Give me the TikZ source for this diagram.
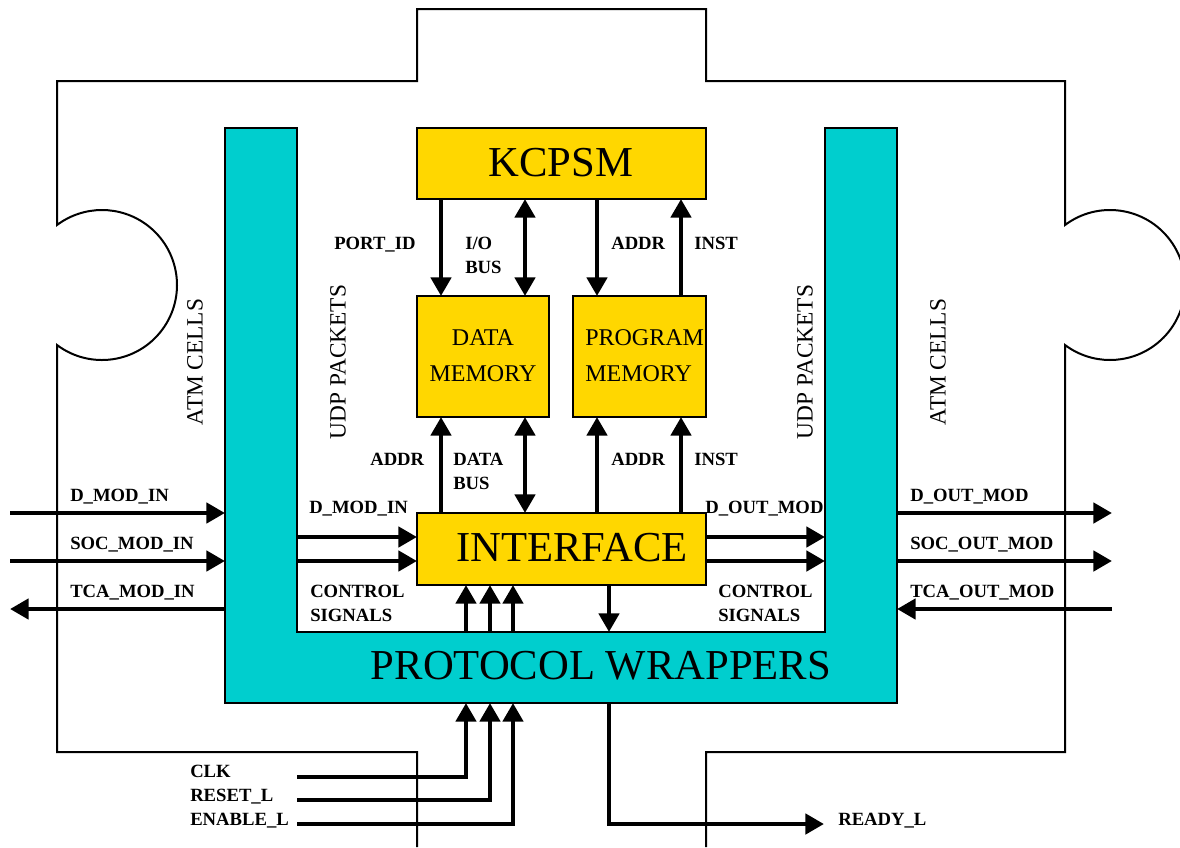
\documentclass[tikz,border=0pt]{standalone}
\usepackage{fontspec}
\setmainfont{Liberation Serif}
\usetikzlibrary{arrows.meta,fit,calc}
\definecolor{boxgold}{RGB}{255,215,0}
\definecolor{wrapcyan}{RGB}{0,206,206}
\begin{document}
\begin{tikzpicture}[x=0.75pt,y=-0.75pt,
  ybox/.style={draw=black, fill=boxgold, line width=1.6pt, inner sep=0pt, outer sep=0pt},
  wire/.style={line width=3.6pt},
  arr/.style={wire, -{Triangle[length=14pt,width=15pt]}},
  darr/.style={wire, {Triangle[length=14pt,width=15pt]}-{Triangle[length=14pt,width=15pt]}},
  lbl/.style={font=\bfseries\fontsize{14}{18}\selectfont, inner sep=0pt, align=left, anchor=base west},
  outline/.style={line width=1.5pt},
  rottxt/.style={rotate=90, font=\fontsize{17.5}{20}\selectfont, inner sep=0pt},
  bigtxt/.style={font=\fontsize{32}{36}\selectfont},
  memtxt/.style={font=\fontsize{18}{27}\selectfont}]
\useasboundingbox (0,0) rectangle (1180,847);
% puzzle outline
\begin{scope}
\clip (0,0) rectangle (1180,847);
\draw[outline] (417,847) -- (417,752) -- (57,752) -- (57,345)
  arc[start angle=126.87, end angle=-126.87, radius=75] -- (57,81) -- (417,81) -- (417,9)
  -- (706,9) -- (706,81) -- (1065,81) -- (1065,225)
  arc[start angle=-126.87, end angle=126.87, radius=75] -- (1065,752) -- (706,752) -- (706,847);
\end{scope}
% protocol wrappers U shape
\draw[fill=wrapcyan, line width=1.5pt] (225,128) -- (297,128) -- (297,632) -- (825,632) -- (825,128)
  -- (897,128) -- (897,703) -- (225,703) -- cycle;
\node[bigtxt] (pw) at (601,666) {PROTOCOL WRAPPERS};
\coordinate (pwl) at (225,0);
\coordinate (pwil) at (297,0);
\coordinate (pwir) at (825,0);
\coordinate (pwr) at (897,0);
\coordinate (pwib) at (0,632);
\coordinate (pwb) at (0,703);
% boxes
\node[ybox, fit={(417,128) (706,199)}] (kcpsm) {};
\node[bigtxt] at (561,163) {KCPSM};
\node[ybox, fit={(417,296) (549,417)}] (dm) {};
\node[memtxt, align=center] at (483,356) {DATA\\MEMORY};
\node[ybox, fit={(573,296) (706,417)}] (pm) {};
\node[memtxt, align=left, anchor=west, inner sep=0pt] at (585,356) {PROGRAM\\MEMORY};
\node[ybox, fit={(417,513) (706,585)}] (intf) {};
\node[bigtxt] at (572,548) {INTERFACE};
% columns
\coordinate (c1) at (441,0);
\coordinate (c2) at (525,0);
\coordinate (c3) at (597,0);
\coordinate (c4) at (681,0);
\draw[arr] (c1 |- kcpsm.south) -- (c1 |- dm.north);
\draw[darr] (c2 |- kcpsm.south) -- (c2 |- dm.north);
\draw[arr] (c3 |- kcpsm.south) -- (c3 |- pm.north);
\draw[arr] (c4 |- pm.north) -- (c4 |- kcpsm.south);
\draw[arr] (c1 |- intf.north) -- (c1 |- dm.south);
\draw[darr] (c2 |- intf.north) -- (c2 |- dm.south);
\draw[arr] (c3 |- intf.north) -- (c3 |- pm.south);
\draw[arr] (c4 |- intf.north) -- (c4 |- pm.south);
\node[lbl] at (334,249) {PORT\_ID};
\node[lbl] at (465,273) {I/O\\BUS};
\node[lbl] at (611,249) {ADDR};
\node[lbl] at (694,249) {INST};
\node[lbl] at (370,465) {ADDR};
\node[lbl] at (453,489) {DATA\\BUS};
\node[lbl] at (611,465) {ADDR};
\node[lbl] at (694,465) {INST};
% left side signals
\coordinate (inD) at (10,513);
\coordinate (inS) at (10,561);
\coordinate (inT) at (10,609);
\draw[arr] (inD) -- (inD -| pwl);
\draw[arr] (inS) -- (inS -| pwl);
\draw[arr] (inT -| pwl) -- (inT);
\node[lbl] at (70,501) {D\_MOD\_IN};
\node[lbl] at (70,549) {SOC\_MOD\_IN};
\node[lbl] at (70,597) {TCA\_MOD\_IN};
% inner signals
\coordinate (r1) at (0,537);
\coordinate (r2) at (0,561);
\draw[arr] (pwil |- r1) -- (intf.west |- r1);
\draw[arr] (pwil |- r2) -- (intf.west |- r2);
\draw[arr] (intf.east |- r1) -- (pwir |- r1);
\draw[arr] (intf.east |- r2) -- (pwir |- r2);
\node[lbl] at (309,513) {D\_MOD\_IN};
\node[lbl] at (310,621) {CONTROL\\SIGNALS};
\node[lbl] at (705,513) {D\_OUT\_MOD};
\node[lbl] at (718,621) {CONTROL\\SIGNALS};
% right side signals
\coordinate (outD) at (1112,513);
\coordinate (outS) at (1112,561);
\coordinate (outT) at (1112,609);
\draw[arr] (pwr |- outD) -- (outD);
\draw[arr] (pwr |- outS) -- (outS);
\draw[arr] (outT) -- (pwr |- outT);
\node[lbl] at (910,501) {D\_OUT\_MOD};
\node[lbl] at (910,549) {SOC\_OUT\_MOD};
\node[lbl] at (910,597) {TCA\_OUT\_MOD};
% control to interface
\coordinate (b1) at (466,0);
\coordinate (b2) at (490,0);
\coordinate (b3) at (513,0);
\coordinate (b4) at (609,0);
\draw[arr] (b1 |- pwib) -- (b1 |- intf.south);
\draw[arr] (b2 |- pwib) -- (b2 |- intf.south);
\draw[arr] (b3 |- pwib) -- (b3 |- intf.south);
\draw[arr] (b4 |- intf.south) -- (b4 |- pwib);
% external control
\coordinate (clk) at (297,777);
\coordinate (rst) at (297,800);
\coordinate (ena) at (297,824);
\coordinate (rdy) at (824,824);
\draw[arr] (clk) -| (b1 |- pwb);
\draw[arr] (rst) -| (b2 |- pwb);
\draw[arr] (ena) -| (b3 |- pwb);
\draw[arr] (b4 |- pwb) |- (rdy);
\node[lbl] at (190,777) {CLK};
\node[lbl] at (190,801) {RESET\_L};
\node[lbl] at (190,825) {ENABLE\_L};
\node[lbl] at (838,825) {READY\_L};
% rotated labels
\node[rottxt] at (195,362) {ATM CELLS};
\node[rottxt] at (338,362) {UDP PACKETS};
\node[rottxt] at (805,362) {UDP PACKETS};
\node[rottxt] at (938,362) {ATM CELLS};
\end{tikzpicture}
\end{document}
